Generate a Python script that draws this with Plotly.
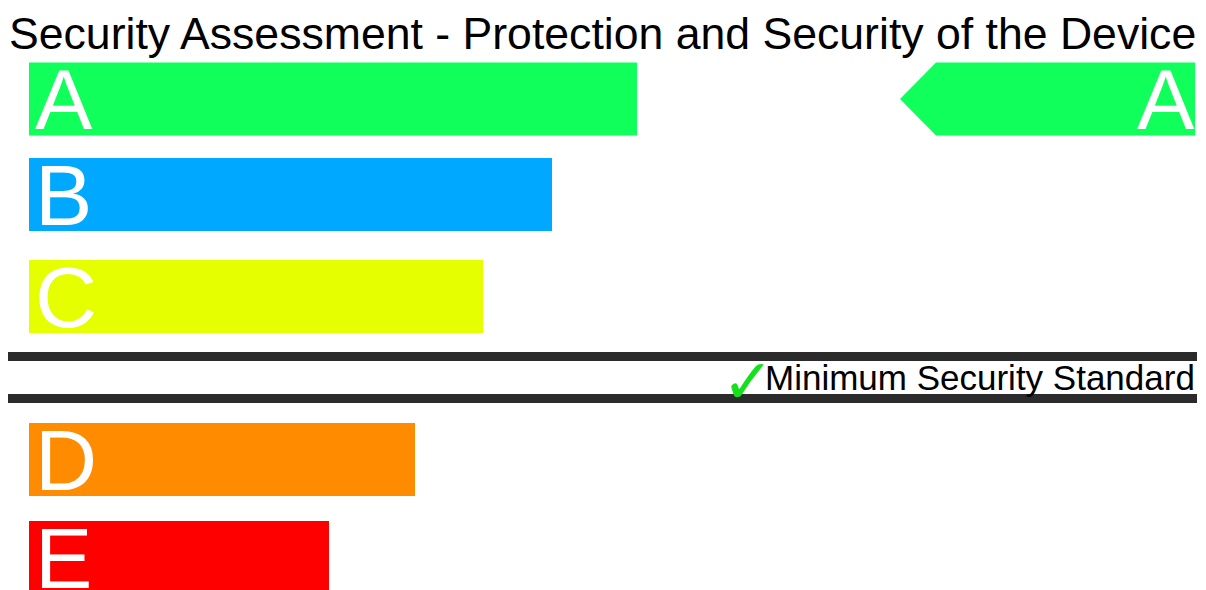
import plotly.graph_objects as go

# Security grades and the score bar length of each grade
grades = ["A", "B", "C", "D", "E"]
scores = [608, 523, 454, 386, 300]
grade_colors = ["#10ff5a", "#00a8ff", "#e5ff00", "#ff8c00", "#ff0000"]
device_rating = "A"
title_text = "Security Assessment - Protection and Security of the Device"
standard_text = "Minimum Security Standard"

# Layout geometry (pixel-like axis units)
W, H = 1206, 590
bar_left = 29
bar_height = 73
row_centers = [99, 194.5, 296.5, 459.5, 557.5]
line_ys = [356.5, 398.5]
letter_font = dict(family="Liberation Sans, Arial", size=86, color="white")

fig = go.Figure()

for g, s, c, yc in zip(grades, scores, grade_colors, row_centers):
    fig.add_trace(go.Bar(
        x=[s], y=[yc], base=bar_left, orientation="h", width=bar_height,
        marker=dict(color=c, line=dict(width=0)), hoverinfo="skip",
        showlegend=False,
    ))
    fig.add_annotation(
        x=bar_left + 4, y=yc, xref="x", yref="y", text=g, showarrow=False,
        xanchor="left", yanchor="middle", yshift=0, font=letter_font,
    )

# Rating pointer on the right
ri = grades.index(device_rating)
yc = row_centers[ri]
top, bot = yc - bar_height / 2, yc + bar_height / 2
tip_x, notch_x, right_x = 900, 936, 1195
fig.add_trace(go.Scatter(
    x=[notch_x, right_x, right_x, notch_x, tip_x, notch_x],
    y=[top, top, bot, bot, yc, top],
    mode="lines", fill="toself", fillcolor=grade_colors[ri],
    line=dict(width=0, color=grade_colors[ri]), hoverinfo="skip",
    showlegend=False,
))
fig.add_annotation(
    x=right_x + 2, y=yc, xref="x", yref="y", text=device_rating,
    showarrow=False, xanchor="right", yanchor="middle", yshift=0,
    font=letter_font,
)

# Minimum standard divider
for ly in line_ys:
    fig.add_shape(type="line", xref="x", yref="y", x0=8, x1=1197, y0=ly, y1=ly,
                  line=dict(color="#2b2b2b", width=9))
mid_y = (line_ys[0] + line_ys[1]) / 2
fig.add_annotation(
    x=1197, y=mid_y, xref="x", yref="y",
    text=standard_text, showarrow=False, xanchor="right", yanchor="middle",
    yshift=0,
    font=dict(family="Liberation Sans, Arial", size=35, color="black"),
)
fig.add_annotation(
    x=776, y=mid_y, xref="x", yref="y",
    text="✓", showarrow=False, xanchor="right", yanchor="middle", yshift=-4,
    font=dict(family="DejaVu Sans", size=62, color="#14e01c"),
)

# Title
fig.add_annotation(
    x=W / 2 - 1, y=33, xref="x", yref="y", text=title_text, showarrow=False,
    xanchor="center", yanchor="middle",
    font=dict(family="Liberation Sans, Arial", size=44.6, color="black"),
)

fig.update_layout(
    width=W, height=H, margin=dict(l=0, r=0, t=0, b=0),
    paper_bgcolor="white", plot_bgcolor="white", barmode="overlay",
    xaxis=dict(range=[0, W], visible=False, fixedrange=True),
    yaxis=dict(range=[H, 0], visible=False, fixedrange=True),
)

fig.write_html("out.html", config={"displayModeBar": False})
